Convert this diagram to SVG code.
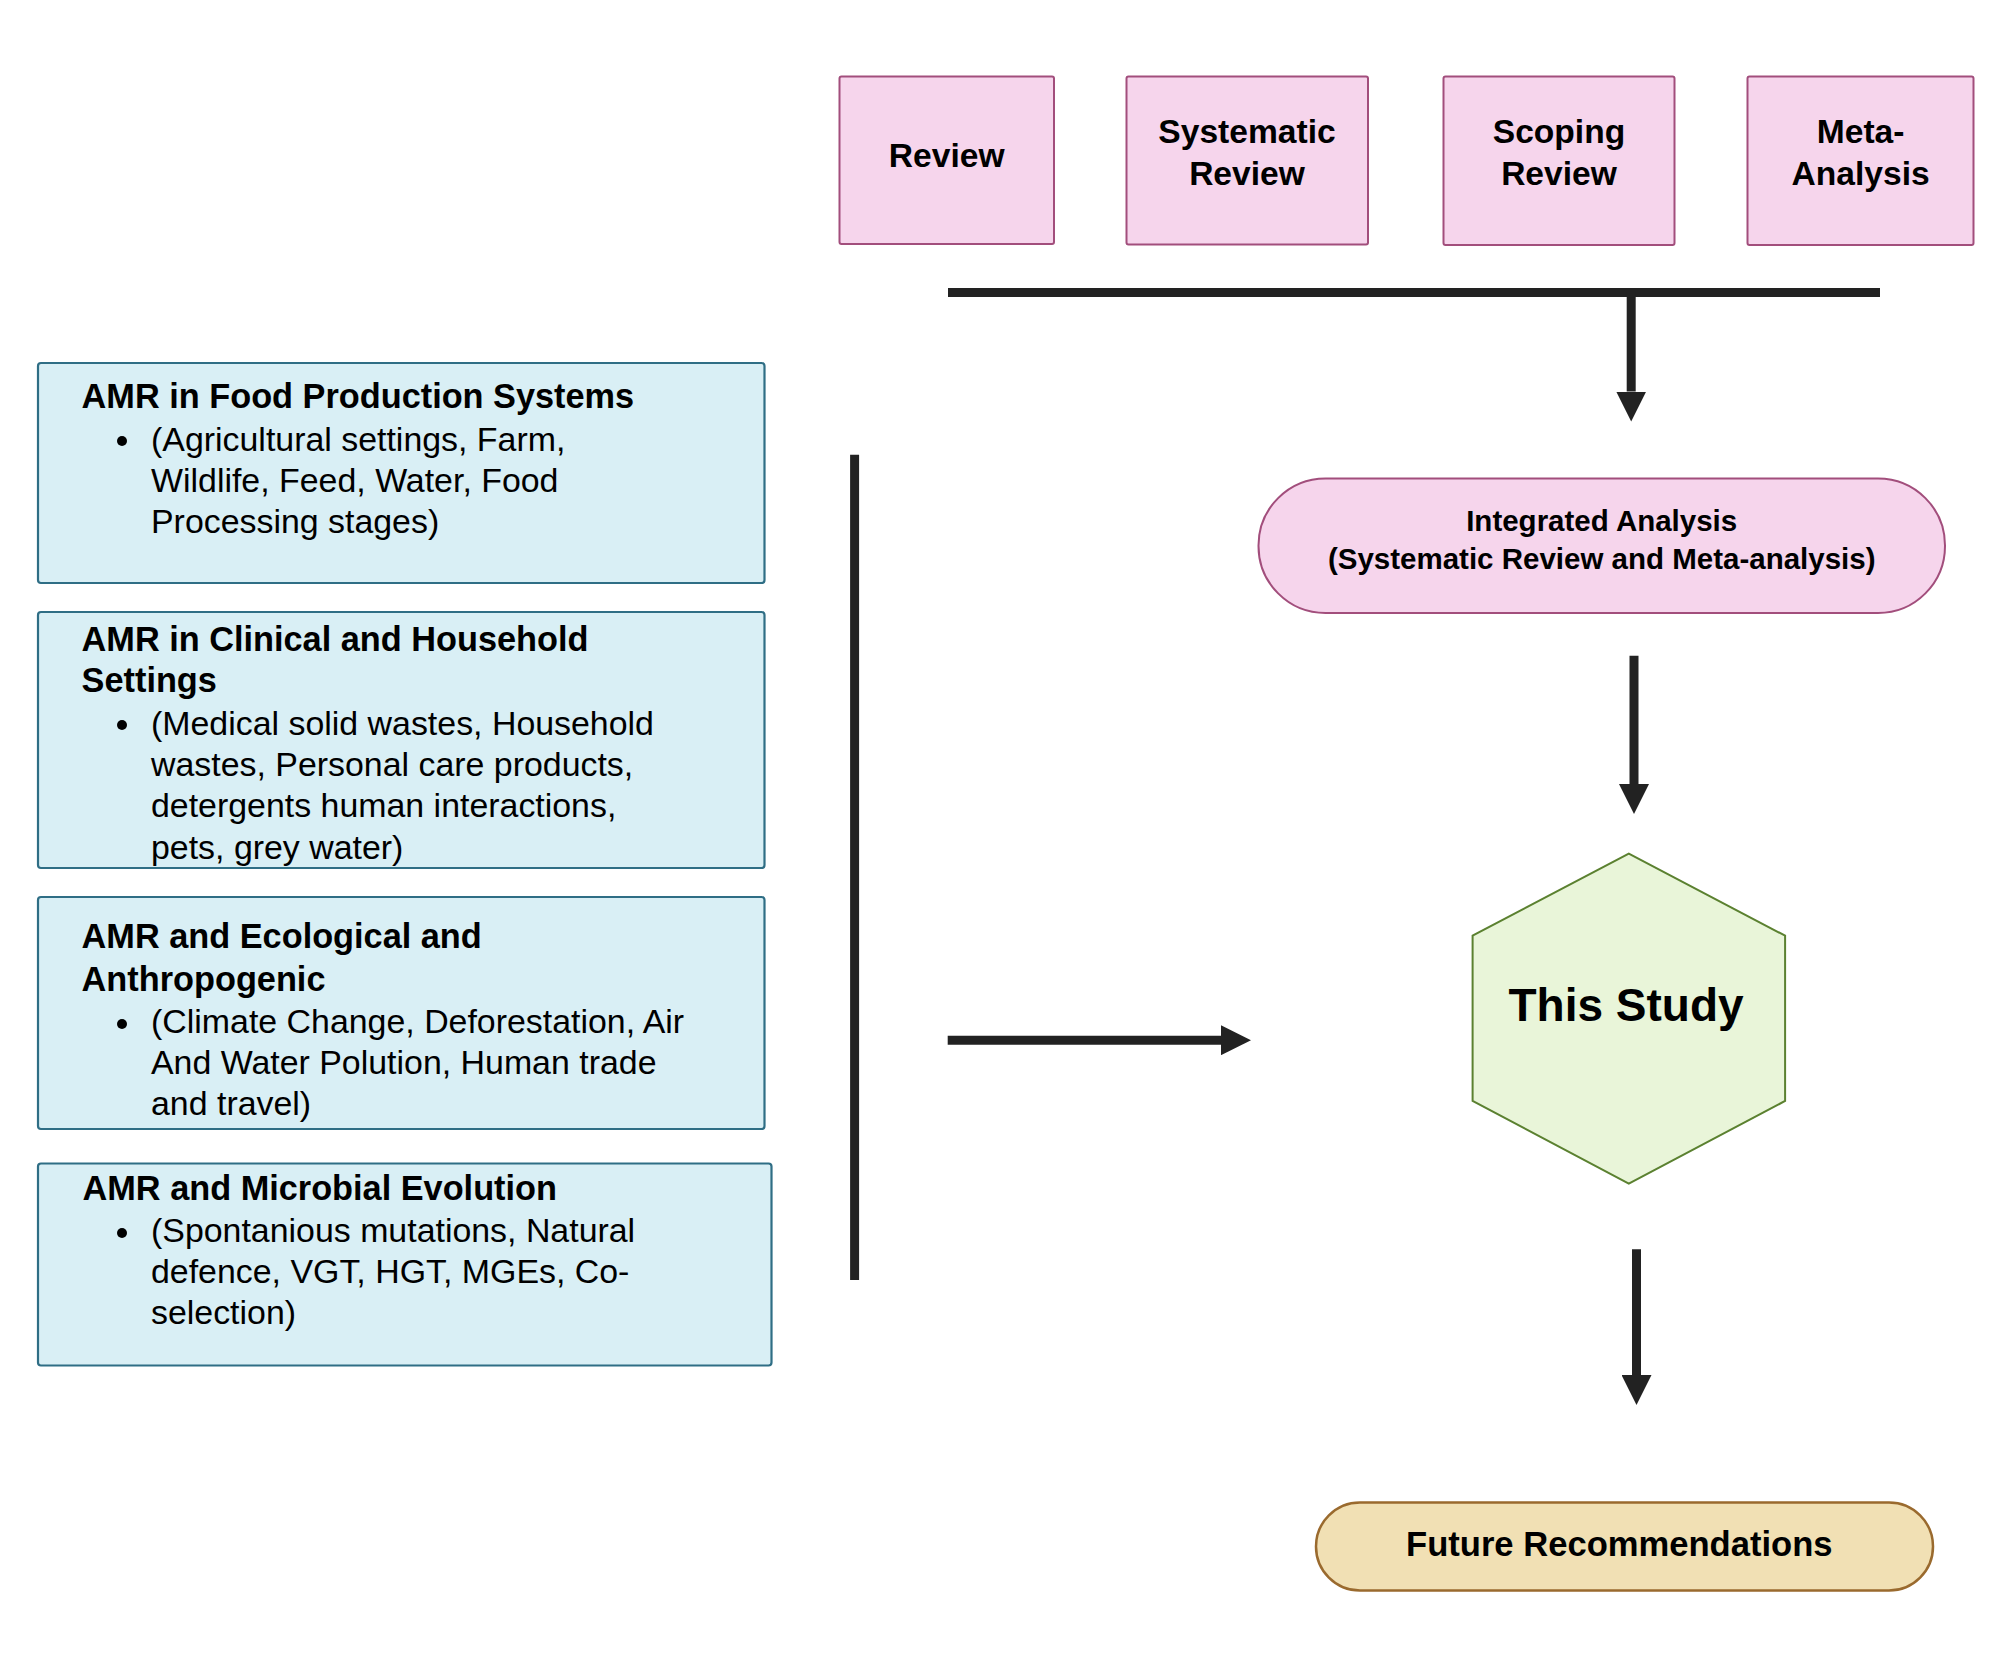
<svg xmlns="http://www.w3.org/2000/svg" width="2000" height="1672" viewBox="0 0 2000 1672">
<style>
text{font-family:"Liberation Sans",Arial,sans-serif;fill:#000}
.b{font-weight:bold}
.t{font-size:33.6px}
.h{font-size:34.3px;font-weight:bold}
.p{font-size:33.9px}
.c{text-anchor:middle}
.blue{fill:#d9eff5;stroke:#2f6e85;stroke-width:2.2}
.pink{fill:#f6d5ec;stroke:#a24e7c;stroke-width:2}
.conn{stroke:#222;stroke-width:9;fill:none}
.dot{fill:#000}
</style>
<defs>
<marker id="ah" markerUnits="userSpaceOnUse" markerWidth="31" markerHeight="30" refX="0" refY="15" orient="auto">
<path d="M0,0 L30,15 L0,30 z" fill="#222"/>
</marker>
</defs>
<rect width="2000" height="1672" fill="#fff"/>

<g id="review"><rect class="pink" x="839.5" y="76.5" width="214.5" height="167.5" rx="2"/><text class="b t c" x="946.7" y="167">Review</text></g>
<g id="systematic"><rect class="pink" x="1126.5" y="76.5" width="241.5" height="168" rx="2"/><text class="b t c" x="1247" y="143">Systematic</text><text class="b t c" x="1247" y="185">Review</text></g>
<g id="scoping"><rect class="pink" x="1443.5" y="76.5" width="231" height="168.5" rx="2"/><text class="b t c" x="1559" y="143">Scoping</text><text class="b t c" x="1559" y="185">Review</text></g>
<g id="meta"><rect class="pink" x="1747.5" y="76.5" width="226" height="168.5" rx="2"/><text class="b t c" x="1860.6" y="143">Meta-</text><text class="b t c" x="1860.6" y="185">Analysis</text></g>

<g id="food"><rect class="blue" x="38" y="363" width="726.5" height="220" rx="3"/>
<text class="h" x="81.6" y="408">AMR in Food Production Systems</text>
<circle class="dot" cx="122" cy="441" r="5"/>
<text class="p" x="151" y="450.5">(Agricultural settings, Farm,</text>
<text class="p" x="151" y="491.8">Wildlife, Feed, Water, Food</text>
<text class="p" x="151" y="533.2">Processing stages)</text></g>

<g id="clinical"><rect class="blue" x="38" y="612" width="726.5" height="256" rx="3"/>
<text class="h" x="81.6" y="650.5">AMR in Clinical and Household</text>
<text class="h" x="81.6" y="692.1">Settings</text>
<circle class="dot" cx="122" cy="725" r="5"/>
<text class="p" x="151" y="734.7">(Medical solid wastes, Household</text>
<text class="p" x="151" y="775.8">wastes, Personal care products,</text>
<text class="p" x="151" y="817.3">detergents human interactions,</text>
<text class="p" x="151" y="858.8">pets, grey water)</text></g>

<g id="ecological"><rect class="blue" x="38" y="897" width="726.5" height="232" rx="3"/>
<text class="h" x="81.6" y="948">AMR and Ecological and</text>
<text class="h" x="81.6" y="990.6">Anthropogenic</text>
<circle class="dot" cx="122" cy="1024" r="5"/>
<text class="p" x="151" y="1033.3">(Climate Change, Deforestation, Air</text>
<text class="p" x="151" y="1074.3">And Water Polution, Human trade</text>
<text class="p" x="151" y="1115">and travel)</text></g>

<g id="microbial"><rect class="blue" x="38" y="1163.5" width="733.5" height="202" rx="3"/>
<text class="h" x="82.5" y="1200.1">AMR and Microbial Evolution</text>
<circle class="dot" cx="122" cy="1233" r="5"/>
<text class="p" x="151" y="1242.3">(Spontanious mutations, Natural</text>
<text class="p" x="151" y="1283">defence, VGT, HGT, MGEs, Co-</text>
<text class="p" x="151" y="1324">selection)</text></g>

<g id="integrated"><rect class="pink" x="1258.5" y="478.5" width="686.5" height="134.5" rx="67"/>
<text class="b c" style="font-size:29.5px" x="1601.7" y="530.5">Integrated Analysis</text>
<text class="b c" style="font-size:29.5px" x="1601.7" y="569.4">(Systematic Review and Meta-analysis)</text></g>

<g id="thisstudy"><polygon points="1628.8,853.6 1785.1,935.7 1785.1,1101 1628.8,1183.6 1472.6,1101 1472.6,935.7" fill="#e9f5d9" stroke="#5b8130" stroke-width="2"/>
<text class="b c" style="font-size:46px" x="1626" y="1021">This Study</text></g>

<g id="future"><rect x="1316" y="1502.5" width="617" height="88" rx="44" fill="#f1e0b4" stroke="#9a6a2e" stroke-width="2.5"/>
<text class="b c" style="font-size:34.6px" x="1619.3" y="1555.8">Future Recommendations</text></g>

<g id="connectors">
<line class="conn" x1="948" y1="292.5" x2="1880" y2="292.5"/>
<line class="conn" x1="1631.2" y1="292.5" x2="1631.2" y2="391.5" marker-end="url(#ah)"/>
<line class="conn" x1="1634" y1="655.8" x2="1634" y2="784" marker-end="url(#ah)"/>
<line class="conn" x1="854.6" y1="454.8" x2="854.6" y2="1280.1"/>
<line class="conn" x1="947.7" y1="1040.2" x2="1221" y2="1040.2" marker-end="url(#ah)"/>
<line class="conn" x1="1636.5" y1="1249.2" x2="1636.5" y2="1375" marker-end="url(#ah)"/>
</g>
</svg>
